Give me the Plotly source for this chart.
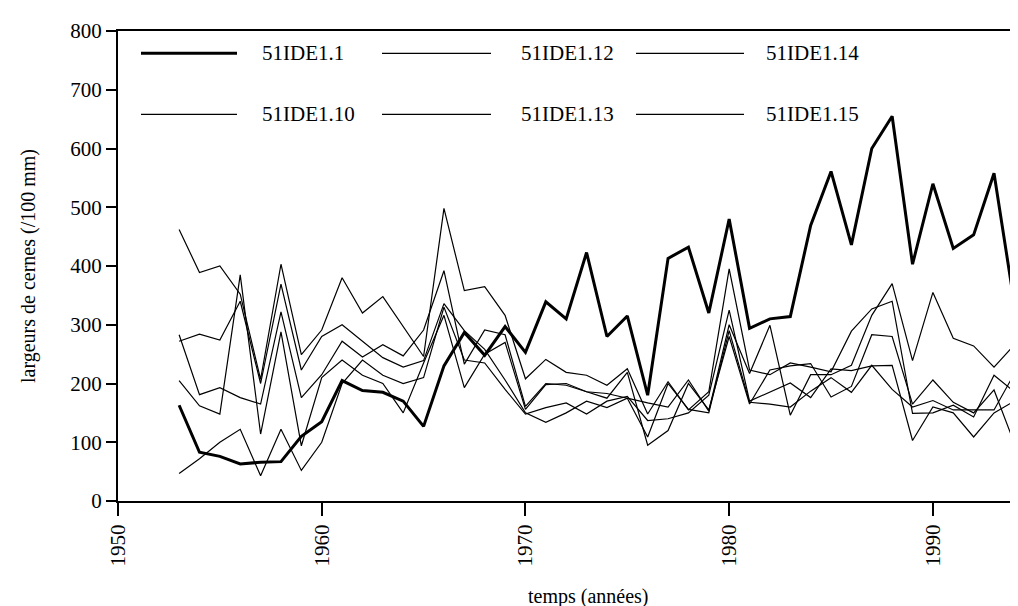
import plotly.graph_objects as go

years = list(range(1953, 1996))

s_1_1 = [163, 83, 76, 63, 66, 67, 110, 135, 205, 188, 185, 170, 127, 230, 287, 248, 297, 253,
         339, 310, 423, 280, 315, 180, 413, 432, 320, 480, 294, 310, 314, 469, 561, 436, 600,
         655, 403, 540, 430, 453, 558, 335, 368]
s_1_10 = [462, 389, 400, 352, 207, 403, 249, 291, 380, 320, 348, 296, 246, 498, 358, 365, 316,
          208, 241, 219, 214, 197, 225, 148, 203, 155, 186, 395, 223, 215, 235, 228, 220, 289,
          327, 340, 149, 150, 163, 143, 214, 186, 120]
s_1_12 = [283, 181, 193, 176, 165, 322, 176, 215, 272, 245, 266, 247, 291, 392, 233, 291, 283,
          161, 200, 197, 186, 183, 175, 109, 200, 156, 150, 290, 168, 165, 160, 187, 210, 185,
          231, 190, 160, 171, 155, 155, 155, 217, 200]
s_1_13 = [272, 284, 274, 340, 200, 369, 223, 280, 300, 272, 244, 228, 239, 336, 290, 258, 206,
          150, 134, 150, 170, 159, 175, 167, 160, 206, 153, 300, 217, 299, 146, 215, 215, 231,
          316, 370, 239, 355, 277, 264, 228, 266, 226]
s_1_14 = [205, 162, 148, 385, 114, 288, 94, 210, 240, 214, 200, 150, 235, 316, 193, 250, 270,
          156, 198, 200, 186, 175, 219, 95, 120, 200, 155, 280, 165, 223, 230, 234, 177, 195,
          283, 280, 165, 206, 168, 150, 189, 98, 102]
s_1_15 = [47, 72, 100, 122, 43, 122, 52, 100, 200, 240, 214, 200, 210, 330, 240, 235, 190, 148,
          159, 167, 148, 170, 178, 137, 140, 150, 180, 325, 170, 185, 201, 176, 225, 222, 230,
          231, 103, 160, 150, 109, 150, 170, 150]

y_ticks = [0, 100, 200, 300, 400, 500, 600, 700, 800]
x_ticks = [1950, 1960, 1970, 1980, 1990]

series = [
    ("51IDE1.1", s_1_1, 3.0),
    ("51IDE1.10", s_1_10, 1.2),
    ("51IDE1.12", s_1_12, 1.2),
    ("51IDE1.13", s_1_13, 1.2),
    ("51IDE1.14", s_1_14, 1.2),
    ("51IDE1.15", s_1_15, 1.2),
]

FONT = "Liberation Serif, Times New Roman, serif"
WIDTH, HEIGHT = 1018, 606
L, T, B = 110, 23, 113
W = WIDTH - L
H = HEIGHT - T - B

fig = go.Figure()
for name, vals, w in series:
    fig.add_trace(go.Scatter(x=years, y=vals, mode="lines", name=name,
                             line=dict(color="#000000", width=w), showlegend=False))

# legend drawn manually: (name, line width, column, row)
legend_items = [
    ("51IDE1.1", 3.0, 0, 0), ("51IDE1.12", 1.2, 1, 0), ("51IDE1.14", 1.2, 2, 0),
    ("51IDE1.10", 1.2, 0, 1), ("51IDE1.13", 1.2, 1, 1), ("51IDE1.15", 1.2, 2, 1),
]
col_line_x = [(133, 229), (374, 483), (628, 736)]
col_text_x = [252, 511, 756]
row_val = [762, 658]
for name, w, c, r in legend_items:
    x0, x1 = col_line_x[c]
    yv = row_val[r]
    fig.add_shape(type="line", xref="paper", yref="y",
                  x0=(x0 - L) / W, x1=(x1 - L) / W, y0=yv, y1=yv,
                  line=dict(color="#000000", width=w))
    fig.add_annotation(xref="paper", yref="y", x=(col_text_x[c] - L) / W, y=yv,
                       text=name, showarrow=False, xanchor="left", yanchor="middle",
                       font=dict(family=FONT, size=21, color="#000000"))

# axis titles
fig.add_annotation(xref="paper", yref="paper", x=(580 - L) / W, y=-(588 - T - H) / H,
                   text="temps (années)", showarrow=False, xanchor="center", yanchor="middle",
                   font=dict(family=FONT, size=20, color="#000000"))
fig.add_annotation(xref="paper", yref="paper", x=(20 - L) / W, y=0.5,
                   text="largeurs de cernes (/100 mm)", showarrow=False, textangle=-90,
                   xanchor="center", yanchor="middle",
                   font=dict(family=FONT, size=20, color="#000000"))

fig.update_layout(
    width=WIDTH, height=HEIGHT,
    margin=dict(l=L, r=0, t=T, b=B),
    paper_bgcolor="white", plot_bgcolor="white",
    font=dict(family=FONT, size=21, color="#000000"),
    xaxis=dict(range=[1950, 1994.57], tickvals=x_ticks, ticktext=[str(t) for t in x_ticks],
               tickangle=-90, ticks="outside", ticklen=13, tickwidth=1.5, tickcolor="#000",
               showline=True, linecolor="#000", linewidth=2, mirror=True,
               showgrid=False, zeroline=False),
    yaxis=dict(range=[0, 800], tickvals=y_ticks, ticks="outside", ticklen=10, tickwidth=1.5,
               tickcolor="#000", showline=True, linecolor="#000", linewidth=2, mirror=False,
               showgrid=False, zeroline=False),
)

fig.write_html("out.html")
